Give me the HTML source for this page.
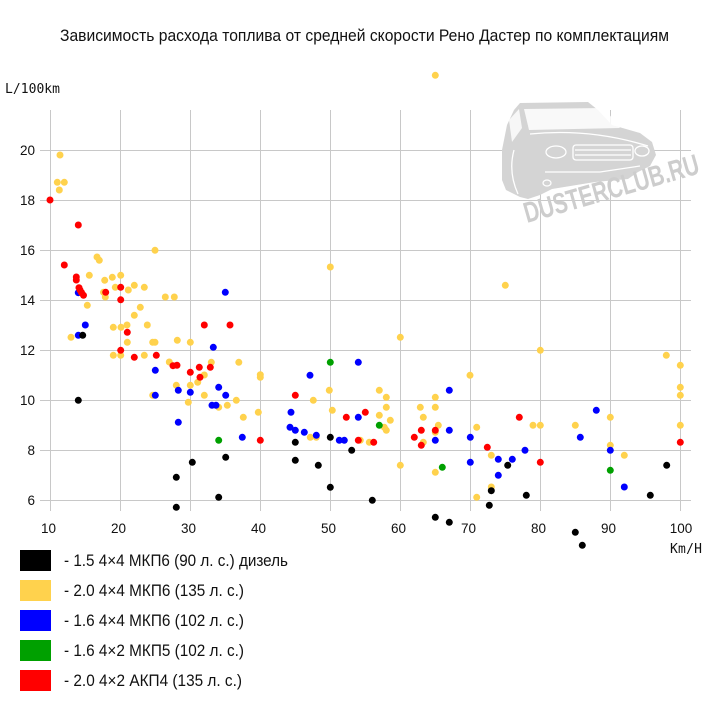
<!DOCTYPE html>
<html><head><meta charset="utf-8"><style>
html,body{margin:0;padding:0;background:#fff;}
svg{display:block;}
</style></head><body>
<svg width="710" height="720" viewBox="0 0 710 720" xmlns="http://www.w3.org/2000/svg">
<rect width="710" height="720" fill="#fff"/>
<text x="60" y="41" font-family="Liberation Sans, DejaVu Sans, sans-serif" font-size="16.5" fill="#111" textLength="609" lengthAdjust="spacingAndGlyphs">Зависимость расхода топлива от средней скорости Рено Дастер по комплектациям</text>

<!-- grid -->
<g stroke="#c8c8c8" stroke-width="1" shape-rendering="crispEdges">
<line x1="40" y1="150.5" x2="691" y2="150.5"/>
<line x1="40" y1="200.5" x2="691" y2="200.5"/>
<line x1="40" y1="250.5" x2="691" y2="250.5"/>
<line x1="40" y1="300.5" x2="691" y2="300.5"/>
<line x1="40" y1="350.5" x2="691" y2="350.5"/>
<line x1="40" y1="400.5" x2="691" y2="400.5"/>
<line x1="40" y1="450.5" x2="691" y2="450.5"/>
<line x1="40" y1="500.5" x2="691" y2="500.5"/>
<line x1="50.5" y1="110" x2="50.5" y2="511"/>
<line x1="120.5" y1="110" x2="120.5" y2="511"/>
<line x1="190.5" y1="110" x2="190.5" y2="511"/>
<line x1="260.5" y1="110" x2="260.5" y2="511"/>
<line x1="330.5" y1="110" x2="330.5" y2="511"/>
<line x1="400.5" y1="110" x2="400.5" y2="511"/>
<line x1="470.5" y1="110" x2="470.5" y2="511"/>
<line x1="540.5" y1="110" x2="540.5" y2="511"/>
<line x1="610.5" y1="110" x2="610.5" y2="511"/>
<line x1="680.5" y1="110" x2="680.5" y2="511"/>
</g>

<!-- watermark -->
<path d="M502,180 L502,150 L507,125 L514,110 L520,103 L588,102 L598,110 L612,125 L640,133 L652,142 L656,155 L650,166 L638,172 L628,179 L595,182 L552,189 L540,195 L528,199 L520,197 L506,190 Z" fill="#d4d4d4"/>
<path d="M524,109 L604,108 L620,128 L529,130 Z" fill="#fff" fill-opacity="0.85"/>
<path d="M509,120 L519,109 L522,128 L512,142 Z" fill="#fff" fill-opacity="0.8"/>
<g fill="none" stroke="#fff" stroke-width="1.3">
<path d="M530,134 Q590,128 648,146"/>
<rect x="573" y="145" width="60" height="15" rx="3"/>
<path d="M575,150 L631,150 M575,155 L631,155"/>
<ellipse cx="556" cy="152" rx="10" ry="6"/>
<ellipse cx="642" cy="151" rx="7" ry="5"/>
<path d="M545,172 L600,172 L640,166"/>
<ellipse cx="547" cy="183" rx="4" ry="3"/>
<path d="M514,150 Q508,172 518,194"/>
</g>
<text transform="translate(527,223) rotate(-16)" font-family="Liberation Sans Narrow, Liberation Sans, sans-serif" font-weight="bold" font-size="29" fill="#cdcdcd" textLength="181" lengthAdjust="spacingAndGlyphs">DUSTERCLUB.RU</text>

<!-- axis labels -->
<g font-family="Liberation Sans, DejaVu Sans, sans-serif" font-size="13.5" fill="#111" text-anchor="end">
<text x="35" y="155">20</text>
<text x="35" y="205">18</text>
<text x="35" y="255">16</text>
<text x="35" y="305">14</text>
<text x="35" y="355">12</text>
<text x="35" y="405">10</text>
<text x="35" y="455">8</text>
<text x="35" y="505">6</text>
</g>
<g font-family="Liberation Sans, DejaVu Sans, sans-serif" font-size="13.5" fill="#111" text-anchor="middle">
<text x="48.5" y="533">10</text>
<text x="118.5" y="533">20</text>
<text x="188.5" y="533">30</text>
<text x="258.5" y="533">40</text>
<text x="328.5" y="533">50</text>
<text x="398.5" y="533">60</text>
<text x="468.5" y="533">70</text>
<text x="538.5" y="533">80</text>
<text x="608.5" y="533">90</text>
<text x="681" y="533">100</text>
</g>
<text x="5" y="93" font-family="DejaVu Sans Mono, Liberation Mono, monospace" font-size="13" fill="#111" textLength="55">L/100km</text>
<text x="670" y="553" font-family="DejaVu Sans Mono, Liberation Mono, monospace" font-size="13" fill="#111" textLength="32">Km/H</text>

<!-- yellow -->
<g fill="#ffd24d">
<circle cx="60" cy="155" r="3.5"/><circle cx="57.3" cy="182.3" r="3.5"/><circle cx="64.3" cy="182.3" r="3.5"/><circle cx="59.3" cy="190" r="3.5"/>
<circle cx="155" cy="250.3" r="3.5"/><circle cx="97" cy="257" r="3.5"/><circle cx="99.3" cy="260.3" r="3.5"/><circle cx="89.3" cy="275.3" r="3.5"/>
<circle cx="112.3" cy="277.3" r="3.5"/><circle cx="120.7" cy="275.3" r="3.5"/><circle cx="104.7" cy="280.3" r="3.5"/><circle cx="115.3" cy="287.3" r="3.5"/>
<circle cx="128.3" cy="290" r="3.5"/><circle cx="134.3" cy="285.3" r="3.5"/><circle cx="144.3" cy="287.3" r="3.5"/><circle cx="103.5" cy="292.3" r="3.5"/>
<circle cx="105.3" cy="297" r="3.5"/><circle cx="165.3" cy="297" r="3.5"/><circle cx="174.3" cy="297" r="3.5"/><circle cx="87.3" cy="305.3" r="3.5"/>
<circle cx="134.3" cy="315.3" r="3.5"/><circle cx="140.3" cy="307.3" r="3.5"/><circle cx="147.3" cy="325" r="3.5"/><circle cx="113.3" cy="327.3" r="3.5"/>
<circle cx="121" cy="327.3" r="3.5"/><circle cx="127" cy="325" r="3.5"/><circle cx="71" cy="337.3" r="3.5"/><circle cx="127.3" cy="342.3" r="3.5"/>
<circle cx="152.7" cy="342.3" r="3.5"/><circle cx="155" cy="342.3" r="3.5"/><circle cx="177.3" cy="340.3" r="3.5"/><circle cx="190.3" cy="342.3" r="3.5"/>
<circle cx="113.3" cy="355.3" r="3.5"/><circle cx="120.7" cy="355.3" r="3.5"/><circle cx="144.3" cy="355.3" r="3.5"/><circle cx="169.3" cy="362" r="3.5"/>
<circle cx="211.3" cy="362.3" r="3.5"/><circle cx="238.8" cy="362.3" r="3.5"/><circle cx="204.3" cy="375" r="3.5"/><circle cx="197.7" cy="382.3" r="3.5"/>
<circle cx="176.3" cy="385.3" r="3.5"/><circle cx="190.3" cy="385.3" r="3.5"/><circle cx="204.3" cy="395.3" r="3.5"/><circle cx="152.7" cy="395.3" r="3.5"/>
<circle cx="236.3" cy="400.3" r="3.5"/><circle cx="188.3" cy="402.3" r="3.5"/><circle cx="218.7" cy="407.3" r="3.5"/><circle cx="227.3" cy="405.3" r="3.5"/>
<circle cx="330.3" cy="267" r="3.5"/><circle cx="400.3" cy="337.3" r="3.5"/><circle cx="260.3" cy="374.7" r="3.5"/><circle cx="260.3" cy="377.3" r="3.5"/>
<circle cx="329.3" cy="390.3" r="3.5"/><circle cx="379.3" cy="390.3" r="3.5"/><circle cx="386.3" cy="397.3" r="3.5"/><circle cx="313.3" cy="400.3" r="3.5"/>
<circle cx="386.3" cy="407.3" r="3.5"/><circle cx="420.3" cy="407.3" r="3.5"/><circle cx="243.3" cy="417.3" r="3.5"/><circle cx="258.3" cy="412.3" r="3.5"/>
<circle cx="332.3" cy="410.3" r="3.5"/><circle cx="379.3" cy="415.3" r="3.5"/><circle cx="390.3" cy="420.3" r="3.5"/><circle cx="384.3" cy="427.3" r="3.5"/>
<circle cx="386.3" cy="430.3" r="3.5"/><circle cx="310.3" cy="437.3" r="3.5"/><circle cx="316.3" cy="437.3" r="3.5"/><circle cx="360.3" cy="440.3" r="3.5"/>
<circle cx="369.3" cy="442.3" r="3.5"/><circle cx="435.3" cy="407.3" r="3.5"/><circle cx="423.3" cy="417.3" r="3.5"/><circle cx="438.3" cy="425.3" r="3.5"/>
<circle cx="435.3" cy="432.3" r="3.5"/><circle cx="423.3" cy="442.3" r="3.5"/><circle cx="476.7" cy="427.3" r="3.5"/><circle cx="400.3" cy="465.3" r="3.5"/>
<circle cx="435.3" cy="472.3" r="3.5"/><circle cx="476.7" cy="497.3" r="3.5"/><circle cx="470" cy="375.3" r="3.5"/><circle cx="540.3" cy="350.3" r="3.5"/>
<circle cx="666.3" cy="355.3" r="3.5"/><circle cx="680.3" cy="365.3" r="3.5"/><circle cx="680.3" cy="387.3" r="3.5"/><circle cx="680.3" cy="395.3" r="3.5"/>
<circle cx="533" cy="425.3" r="3.5"/><circle cx="540.3" cy="425.3" r="3.5"/><circle cx="575.3" cy="425.3" r="3.5"/><circle cx="610.3" cy="417.3" r="3.5"/>
<circle cx="680.3" cy="425.3" r="3.5"/><circle cx="491.3" cy="455.3" r="3.5"/><circle cx="610.3" cy="445.3" r="3.5"/><circle cx="624.3" cy="455.3" r="3.5"/>
<circle cx="491.3" cy="487" r="3.5"/><circle cx="505.3" cy="285.3" r="3.5"/><circle cx="435.3" cy="397.3" r="3.5"/><circle cx="435.3" cy="75.3" r="3.5"/>
</g>

<!-- blue -->
<g fill="#0000ff">
<circle cx="225.3" cy="292.3" r="3.5"/><circle cx="78.3" cy="292.7" r="3.5"/><circle cx="85.3" cy="325" r="3.5"/><circle cx="78.3" cy="335.3" r="3.5"/>
<circle cx="213.3" cy="347.3" r="3.5"/><circle cx="155.3" cy="370.3" r="3.5"/><circle cx="218.7" cy="387.3" r="3.5"/><circle cx="178.3" cy="390.3" r="3.5"/>
<circle cx="190.3" cy="392.3" r="3.5"/><circle cx="225.7" cy="395.3" r="3.5"/><circle cx="155.3" cy="395.3" r="3.5"/><circle cx="212" cy="405.3" r="3.5"/>
<circle cx="216" cy="405.3" r="3.5"/><circle cx="178.3" cy="422.3" r="3.5"/><circle cx="242.3" cy="437.3" r="3.5"/><circle cx="358.3" cy="362.3" r="3.5"/>
<circle cx="310" cy="375.3" r="3.5"/><circle cx="291" cy="412.3" r="3.5"/><circle cx="358.3" cy="417.3" r="3.5"/><circle cx="290" cy="427.3" r="3.5"/>
<circle cx="295.3" cy="430.3" r="3.5"/><circle cx="304.3" cy="432.3" r="3.5"/><circle cx="316.3" cy="435.3" r="3.5"/><circle cx="339.3" cy="440.3" r="3.5"/>
<circle cx="344.3" cy="440.3" r="3.5"/><circle cx="449.3" cy="390.3" r="3.5"/><circle cx="449.3" cy="430.3" r="3.5"/><circle cx="435.3" cy="440.3" r="3.5"/>
<circle cx="470.3" cy="437.3" r="3.5"/><circle cx="470.3" cy="462.3" r="3.5"/><circle cx="498.3" cy="459.3" r="3.5"/><circle cx="512.3" cy="459.3" r="3.5"/>
<circle cx="525" cy="450.3" r="3.5"/><circle cx="596.3" cy="410.3" r="3.5"/><circle cx="580.3" cy="437.3" r="3.5"/><circle cx="610.3" cy="450.3" r="3.5"/>
<circle cx="498.3" cy="475.3" r="3.5"/><circle cx="624.3" cy="487" r="3.5"/>
</g>

<!-- green -->
<g fill="#00a000">
<circle cx="218.7" cy="440.3" r="3.5"/><circle cx="330.3" cy="362.3" r="3.5"/><circle cx="379.3" cy="425.3" r="3.5"/><circle cx="442.3" cy="467.3" r="3.5"/><circle cx="610.3" cy="470.3" r="3.5"/>
</g>

<!-- red -->
<g fill="#ff0000">
<circle cx="50" cy="200" r="3.5"/><circle cx="78.3" cy="225" r="3.5"/><circle cx="64.3" cy="265" r="3.5"/><circle cx="76.3" cy="277" r="3.5"/>
<circle cx="76.3" cy="280" r="3.5"/><circle cx="79" cy="287.7" r="3.5"/><circle cx="80" cy="290" r="3.5"/><circle cx="81.5" cy="292.5" r="3.5"/>
<circle cx="83.5" cy="295.3" r="3.5"/><circle cx="105.7" cy="292.3" r="3.5"/><circle cx="120.7" cy="287.3" r="3.5"/><circle cx="120.7" cy="299.8" r="3.5"/>
<circle cx="127.3" cy="332.3" r="3.5"/><circle cx="204.3" cy="325" r="3.5"/><circle cx="230" cy="325" r="3.5"/><circle cx="120.7" cy="350.3" r="3.5"/>
<circle cx="134.3" cy="357.3" r="3.5"/><circle cx="156.3" cy="355.3" r="3.5"/><circle cx="173" cy="365.7" r="3.5"/><circle cx="177" cy="365.3" r="3.5"/>
<circle cx="190.3" cy="372.3" r="3.5"/><circle cx="199.3" cy="367.3" r="3.5"/><circle cx="210.3" cy="367.3" r="3.5"/><circle cx="200" cy="377.3" r="3.5"/>
<circle cx="295.3" cy="395.3" r="3.5"/><circle cx="346.3" cy="417.3" r="3.5"/><circle cx="365.3" cy="412.3" r="3.5"/><circle cx="358.3" cy="440.3" r="3.5"/>
<circle cx="260.3" cy="440.3" r="3.5"/><circle cx="373.7" cy="442.3" r="3.5"/><circle cx="414.3" cy="437.3" r="3.5"/><circle cx="421.3" cy="430.3" r="3.5"/>
<circle cx="435.3" cy="430.3" r="3.5"/><circle cx="421.3" cy="445.3" r="3.5"/><circle cx="487.3" cy="447.3" r="3.5"/><circle cx="519.3" cy="417.3" r="3.5"/>
<circle cx="540.3" cy="462.3" r="3.5"/><circle cx="680.3" cy="442.3" r="3.5"/>
</g>

<!-- black -->
<g fill="#000">
<circle cx="78.3" cy="400.3" r="3.5"/><circle cx="82.7" cy="335.3" r="3.5"/><circle cx="225.7" cy="457.3" r="3.5"/><circle cx="192.3" cy="462.3" r="3.5"/>
<circle cx="176.3" cy="477.3" r="3.5"/><circle cx="218.7" cy="497.3" r="3.5"/><circle cx="176.3" cy="507.3" r="3.5"/><circle cx="330.3" cy="437.3" r="3.5"/>
<circle cx="295.3" cy="442.3" r="3.5"/><circle cx="295.3" cy="460.3" r="3.5"/><circle cx="318.3" cy="465.3" r="3.5"/><circle cx="351.7" cy="450.3" r="3.5"/>
<circle cx="330.3" cy="487.3" r="3.5"/><circle cx="372.3" cy="500.3" r="3.5"/><circle cx="435.3" cy="517.3" r="3.5"/><circle cx="449.3" cy="522.3" r="3.5"/>
<circle cx="507.7" cy="465.3" r="3.5"/><circle cx="666.7" cy="465.3" r="3.5"/><circle cx="491.3" cy="490.7" r="3.5"/><circle cx="526.3" cy="495.3" r="3.5"/>
<circle cx="650.3" cy="495.3" r="3.5"/><circle cx="489.3" cy="505.3" r="3.5"/><circle cx="575.3" cy="532.3" r="3.5"/><circle cx="582.3" cy="545.3" r="3.5"/>
</g>

<!-- legend -->
<rect x="20" y="550" width="31" height="21" fill="#000"/>
<rect x="20" y="580" width="31" height="21" fill="#ffd24d"/>
<rect x="20" y="610" width="31" height="21" fill="#0000ff"/>
<rect x="20" y="640" width="31" height="21" fill="#00a000"/>
<rect x="20" y="670" width="31" height="21" fill="#ff0000"/>
<g font-family="Liberation Sans, DejaVu Sans, sans-serif" font-size="17" fill="#111">
<text x="64" y="566" textLength="224" lengthAdjust="spacingAndGlyphs">- 1.5 4×4 МКП6 (90 л. с.) дизель</text>
<text x="64" y="596" textLength="180" lengthAdjust="spacingAndGlyphs">- 2.0 4×4 МКП6 (135 л. с.)</text>
<text x="64" y="626" textLength="180" lengthAdjust="spacingAndGlyphs">- 1.6 4×4 МКП6 (102 л. с.)</text>
<text x="64" y="656" textLength="180" lengthAdjust="spacingAndGlyphs">- 1.6 4×2 МКП5 (102 л. с.)</text>
<text x="64" y="686" textLength="178" lengthAdjust="spacingAndGlyphs">- 2.0 4×2 АКП4 (135 л. с.)</text>
</g>
</svg>
</body></html>
